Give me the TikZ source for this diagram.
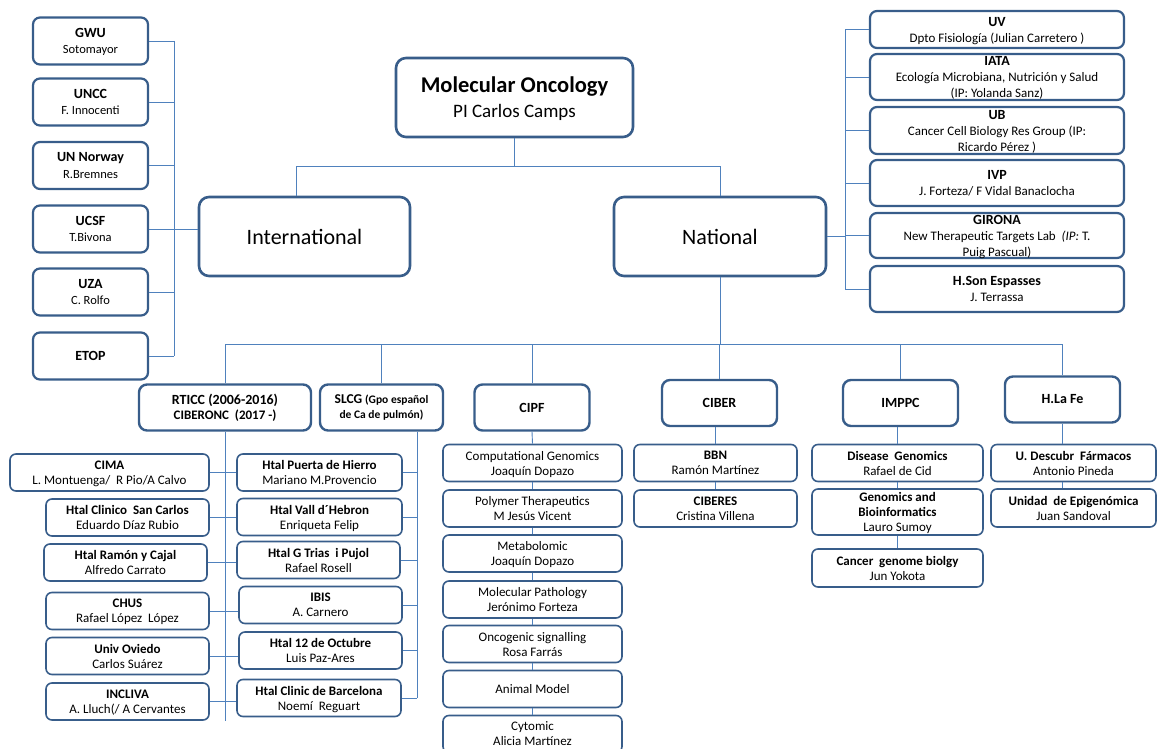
\documentclass[tikz,border=0pt]{standalone}
\usepackage{fontspec}
\setmainfont{Carlito}
\usepackage{tikz}
\definecolor{boxblue}{RGB}{56,93,138}
\definecolor{linkblue}{RGB}{79,129,189}
\newcommand{\hd}[1]{{\fontsize{14}{16}\selectfont\bfseries #1}}
\tikzstyle{topbox} = [draw=boxblue, fill=white, line width=2.6pt,
    rectangle, rounded corners=10pt, align=center, inner sep=0pt]
\tikzstyle{sidebox} = [draw=boxblue, fill=white, line width=2.2pt,
    rectangle, rounded corners=7pt, align=center, inner sep=0pt,
    text depth=-1pt, font=\fontsize{12.5}{16.5}\selectfont]
\tikzstyle{groupbox} = [draw=boxblue, fill=white, line width=2.4pt,
    rectangle, rounded corners=8pt, align=center, inner sep=0pt,
    minimum width=115pt, minimum height=46pt, font=\fontsize{13}{15}\selectfont]
\tikzstyle{subbox} = [draw=boxblue, fill=white, line width=1.6pt,
    rectangle, rounded corners=6pt, align=center, inner sep=0pt,
    text depth=-1pt, minimum height=37pt, font=\fontsize{13}{15}\selectfont]
\tikzstyle{link} = [draw=linkblue, line width=0.9pt]

\begin{document}
\begin{tikzpicture}[x=1pt,y=-1pt]
\useasboundingbox (0,0) rectangle (1159,749);
% connector buses
\coordinate (tbus) at (0,166);
\coordinate (bbus) at (0,344);
\coordinate (lbus) at (174,0);
\coordinate (rbus) at (845,0);
\coordinate (sbus) at (417,0);

% head
\node[topbox, minimum width=237pt, minimum height=79pt, text depth=-3pt,
    font=\fontsize{19}{25}\selectfont] (mo) at (514.5,97.5)
    {{\fontsize{22.5}{25}\selectfont\bfseries Molecular Oncology}\\PI Carlos Camps};
\node[topbox, minimum width=211pt, minimum height=79pt,
    font=\fontsize{22}{26}\selectfont] (intl) at (304.5,236.5) {International};
\node[topbox, minimum width=212pt, minimum height=79pt,
    font=\fontsize{22}{26}\selectfont] (natl) at (720,236.5) {National};

% international partners
\node[sidebox, minimum width=115pt, minimum height=47pt] (gwu) at (90.5,41) {\hd{GWU}\\Sotomayor};
\node[sidebox, minimum width=115pt, minimum height=47pt] (uncc) at (90.5,102) {\hd{UNCC}\\F. Innocenti};
\node[sidebox, minimum width=115pt, minimum height=47pt] (unn) at (90.5,165.5) {\hd{UN Norway}\\R.Bremnes};
\node[sidebox, minimum width=115pt, minimum height=47pt] (ucsf) at (90.5,229) {\hd{UCSF}\\T.Bivona};
\node[sidebox, minimum width=115pt, minimum height=47pt] (uza) at (90.5,292) {\hd{UZA}\\C. Rolfo};
\node[sidebox, minimum width=115pt, minimum height=47pt, text depth=0pt] (etop) at (90.5,356) {\hd{ETOP}};

% national partners
\node[sidebox, minimum width=254pt, minimum height=37pt, font=\fontsize{13}{16}\selectfont] (uv) at (997,29.5)
    {\hd{UV}\\Dpto Fisiología (Julian Carretero )};
\node[sidebox, minimum width=254pt, minimum height=46pt, text depth=-3pt, font=\fontsize{13}{16}\selectfont] (iata) at (997,77)
    {\hd{IATA}\\Ecología Microbiana, Nutrición y Salud\\(IP: Yolanda Sanz)};
\node[sidebox, minimum width=254pt, minimum height=47pt, text depth=-3pt, font=\fontsize{13}{16}\selectfont] (ub) at (997,130.5)
    {\hd{UB}\\Cancer Cell Biology Res Group (IP:\\Ricardo Pérez )};
\node[sidebox, minimum width=254pt, minimum height=46pt, font=\fontsize{13}{16}\selectfont] (ivp) at (997,183)
    {\hd{IVP}\\J. Forteza/ F Vidal Banaclocha};
\node[sidebox, minimum width=254pt, minimum height=45pt, text depth=-3pt, font=\fontsize{13}{16}\selectfont] (girona) at (997,235.5)
    {\hd{GIRONA}\\New Therapeutic Targets Lab \ \textit{(IP:} T.\\Puig Pascual)};
\node[sidebox, minimum width=254pt, minimum height=46pt, font=\fontsize{13}{16}\selectfont] (hson) at (997,289)
    {\hd{H.Son Espasses}\\J. Terrassa};

% national groups
\node[groupbox, minimum width=172pt] (rticc) at (225,407.5)
    {\textbf{\fontsize{14}{15}\selectfont RTICC (2006-2016)}\\\textbf{CIBERONC \ (2017 -)}};
\node[groupbox, minimum width=123pt] (slcg) at (381.5,407.5)
    {\textbf{\fontsize{13.5}{15}\selectfont SLCG} \textbf{\fontsize{11.5}{15}\selectfont (Gpo español}\\
     \textbf{\fontsize{11.5}{15}\selectfont de Ca de pulmón)}};
\node[groupbox] (cipf) at (532,407.5) {\hd{CIPF}};
\node[groupbox] (ciber) at (719.5,403) {\hd{CIBER}};
\node[groupbox] (imppc) at (900.5,403) {\hd{IMPPC}};
\node[groupbox] (hlafe) at (1062.5,399.5) {\hd{H.La Fe}};

% RTICC members
\node[subbox, minimum width=199pt] (cima) at (109.5,472.5) {\textbf{CIMA}\\L. Montuenga/ \ R Pio/A Calvo};
\node[subbox, minimum width=163pt] (hcsc) at (127.5,517.5) {\textbf{Htal Clinico \ San Carlos}\\Eduardo Díaz Rubio};
\node[subbox, minimum width=163pt] (hryc) at (125.5,562.5) {\textbf{Htal Ramón y Cajal}\\Alfredo Carrato};
\node[subbox, minimum width=163pt] (chus) at (127.5,611) {\textbf{CHUS}\\Rafael López \ López};
\node[subbox, minimum width=163pt] (uovi) at (127.5,656) {\textbf{Univ Oviedo}\\Carlos Suárez};
\node[subbox, minimum width=163pt] (incl) at (127.5,701.5) {\textbf{INCLIVA}\\A. Lluch(/ A Cervantes};

% SLCG members
\node[subbox, minimum width=165pt] (hph) at (319.5,472.5) {\textbf{Htal Puerta de Hierro}\\Mariano M.Provencio};
\node[subbox, minimum width=165pt] (hvh) at (319.5,517) {\textbf{Htal Vall d´Hebron}\\Enriqueta Felip};
\node[subbox, minimum width=163pt] (hgt) at (318.5,560) {\textbf{Htal G Trias \ i Pujol}\\Rafael Rosell};
\node[subbox, minimum width=163pt] (ibis) at (320.5,605) {\textbf{IBIS}\\A. Carnero};
\node[subbox, minimum width=163pt] (h12) at (320.5,650.5) {\textbf{Htal 12 de Octubre}\\Luis Paz-Ares};
\node[subbox, minimum width=164pt] (hcb) at (319,698) {\textbf{Htal Clinic de Barcelona}\\Noemí \ Reguart};

% CIPF labs
\node[subbox, minimum width=179pt] (cg) at (532.5,463) {Computational Genomics\\Joaquín Dopazo};
\node[subbox, minimum width=179pt] (pt) at (532.5,508.5) {Polymer Therapeutics\\M Jesús Vicent};
\node[subbox, minimum width=179pt] (met) at (532.5,553.5) {Metabolomic\\Joaquín Dopazo};
\node[subbox, minimum width=179pt] (mp) at (532.5,599.5) {Molecular Pathology\\Jerónimo Forteza};
\node[subbox, minimum width=179pt] (os) at (532.5,644) {Oncogenic signalling\\Rosa Farrás};
\node[subbox, minimum width=179pt, text depth=0pt] (am) at (532.5,689) {Animal Model};
\node[subbox, minimum width=179pt] (cyt) at (532.5,734) {Cytomic\\Alicia Martínez};

% CIBER labs
\node[subbox, minimum width=163pt] (bbn) at (715.5,463) {\textbf{BBN}\\Ramón Martínez};
\node[subbox, minimum width=163pt] (ciberes) at (715.5,508.5) {\textbf{CIBERES}\\Cristina Villena};

% IMPPC labs
\node[subbox, minimum width=171pt] (dg) at (897.5,463) {\textbf{Disease \ Genomics}\\Rafael de Cid};
\node[subbox, minimum width=171pt, minimum height=46pt] (gb) at (897.5,512) {\textbf{Genomics and}\\\textbf{Bioinformatics}\\Lauro Sumoy};
\node[subbox, minimum width=171pt, minimum height=38pt] (cgb) at (897.5,568) {\textbf{Cancer \ genome biolgy}\\Jun Yokota};

% H.La Fe labs
\node[subbox, minimum width=165pt] (udf) at (1073.5,463) {\textbf{U. Descubr \ Fármacos}\\Antonio Pineda};
\node[subbox, minimum width=165pt, minimum height=38pt] (ue) at (1073.5,508) {\textbf{Unidad \ de Epigenómica}\\Juan Sandoval};

% top links
\draw[link] (mo.south) -- (mo.south |- tbus);
\draw[link] ([xshift=-8pt]intl.north) -- ([xshift=-8pt]intl.north |- tbus) -- (natl.north |- tbus) -- (natl.north);

% international links
\draw[link] (gwu.east -| lbus) -- (etop.east -| lbus);
\foreach \n in {gwu,uncc,unn,ucsf,uza,etop}
    \draw[link] (\n.east) -- (\n.east -| lbus);
\draw[link] (ucsf.east -| lbus) -- (intl.west |- ucsf.east);

% national links
\draw[link] (uv.west -| rbus) -- (hson.west -| rbus);
\foreach \n in {uv,iata,ub,ivp,girona,hson}
    \draw[link] (\n.west) -- (\n.west -| rbus);
\draw[link] (natl.east) -- (natl.east -| rbus);

% groups bus
\draw[link] (natl.south) -- (natl.south |- bbus);
\draw[link] (rticc.north) -- (rticc.north |- bbus) -- (hlafe.north |- bbus) -- (hlafe.north);
\foreach \n in {slcg,cipf,ciber,imppc}
    \draw[link] (\n.north) -- (\n.north |- bbus);

% RTICC and SLCG links
\draw[link] (rticc.south) -- (rticc.south |- incl.south);
\draw[link] (slcg.south -| sbus) -- (hcb.east -| sbus);
\foreach \a/\b in {cima/hph,hcsc/hvh,hryc/hgt,chus/ibis,uovi/h12,incl/hcb}
    \draw[link] (\a.east) -- (\a.east -| \b.west);
\foreach \n in {hph,hvh,hgt,ibis,h12,hcb}
    \draw[link] (\n.east) -- (\n.east -| sbus);

% lab chains
\draw[link] (cipf.south) -- (cg.north);
\foreach \a/\b in {cg/pt,pt/met,met/mp,mp/os,os/am,am/cyt}
    \draw[link] (\a.south) -- (\b.north);
\draw[link] (bbn.north) -- (bbn.north |- ciber.south);
\draw[link] (bbn.south) -- (ciberes.north);
\draw[link] (dg.north) -- (dg.north |- imppc.south);
\draw[link] (dg.south) -- (gb.north);
\draw[link] (gb.south) -- (cgb.north);
\draw[link] (hlafe.south) -- (hlafe.south |- udf.north);
\draw[link] (hlafe.south |- udf.south) -- (hlafe.south |- ue.north);
\end{tikzpicture}
\end{document}
